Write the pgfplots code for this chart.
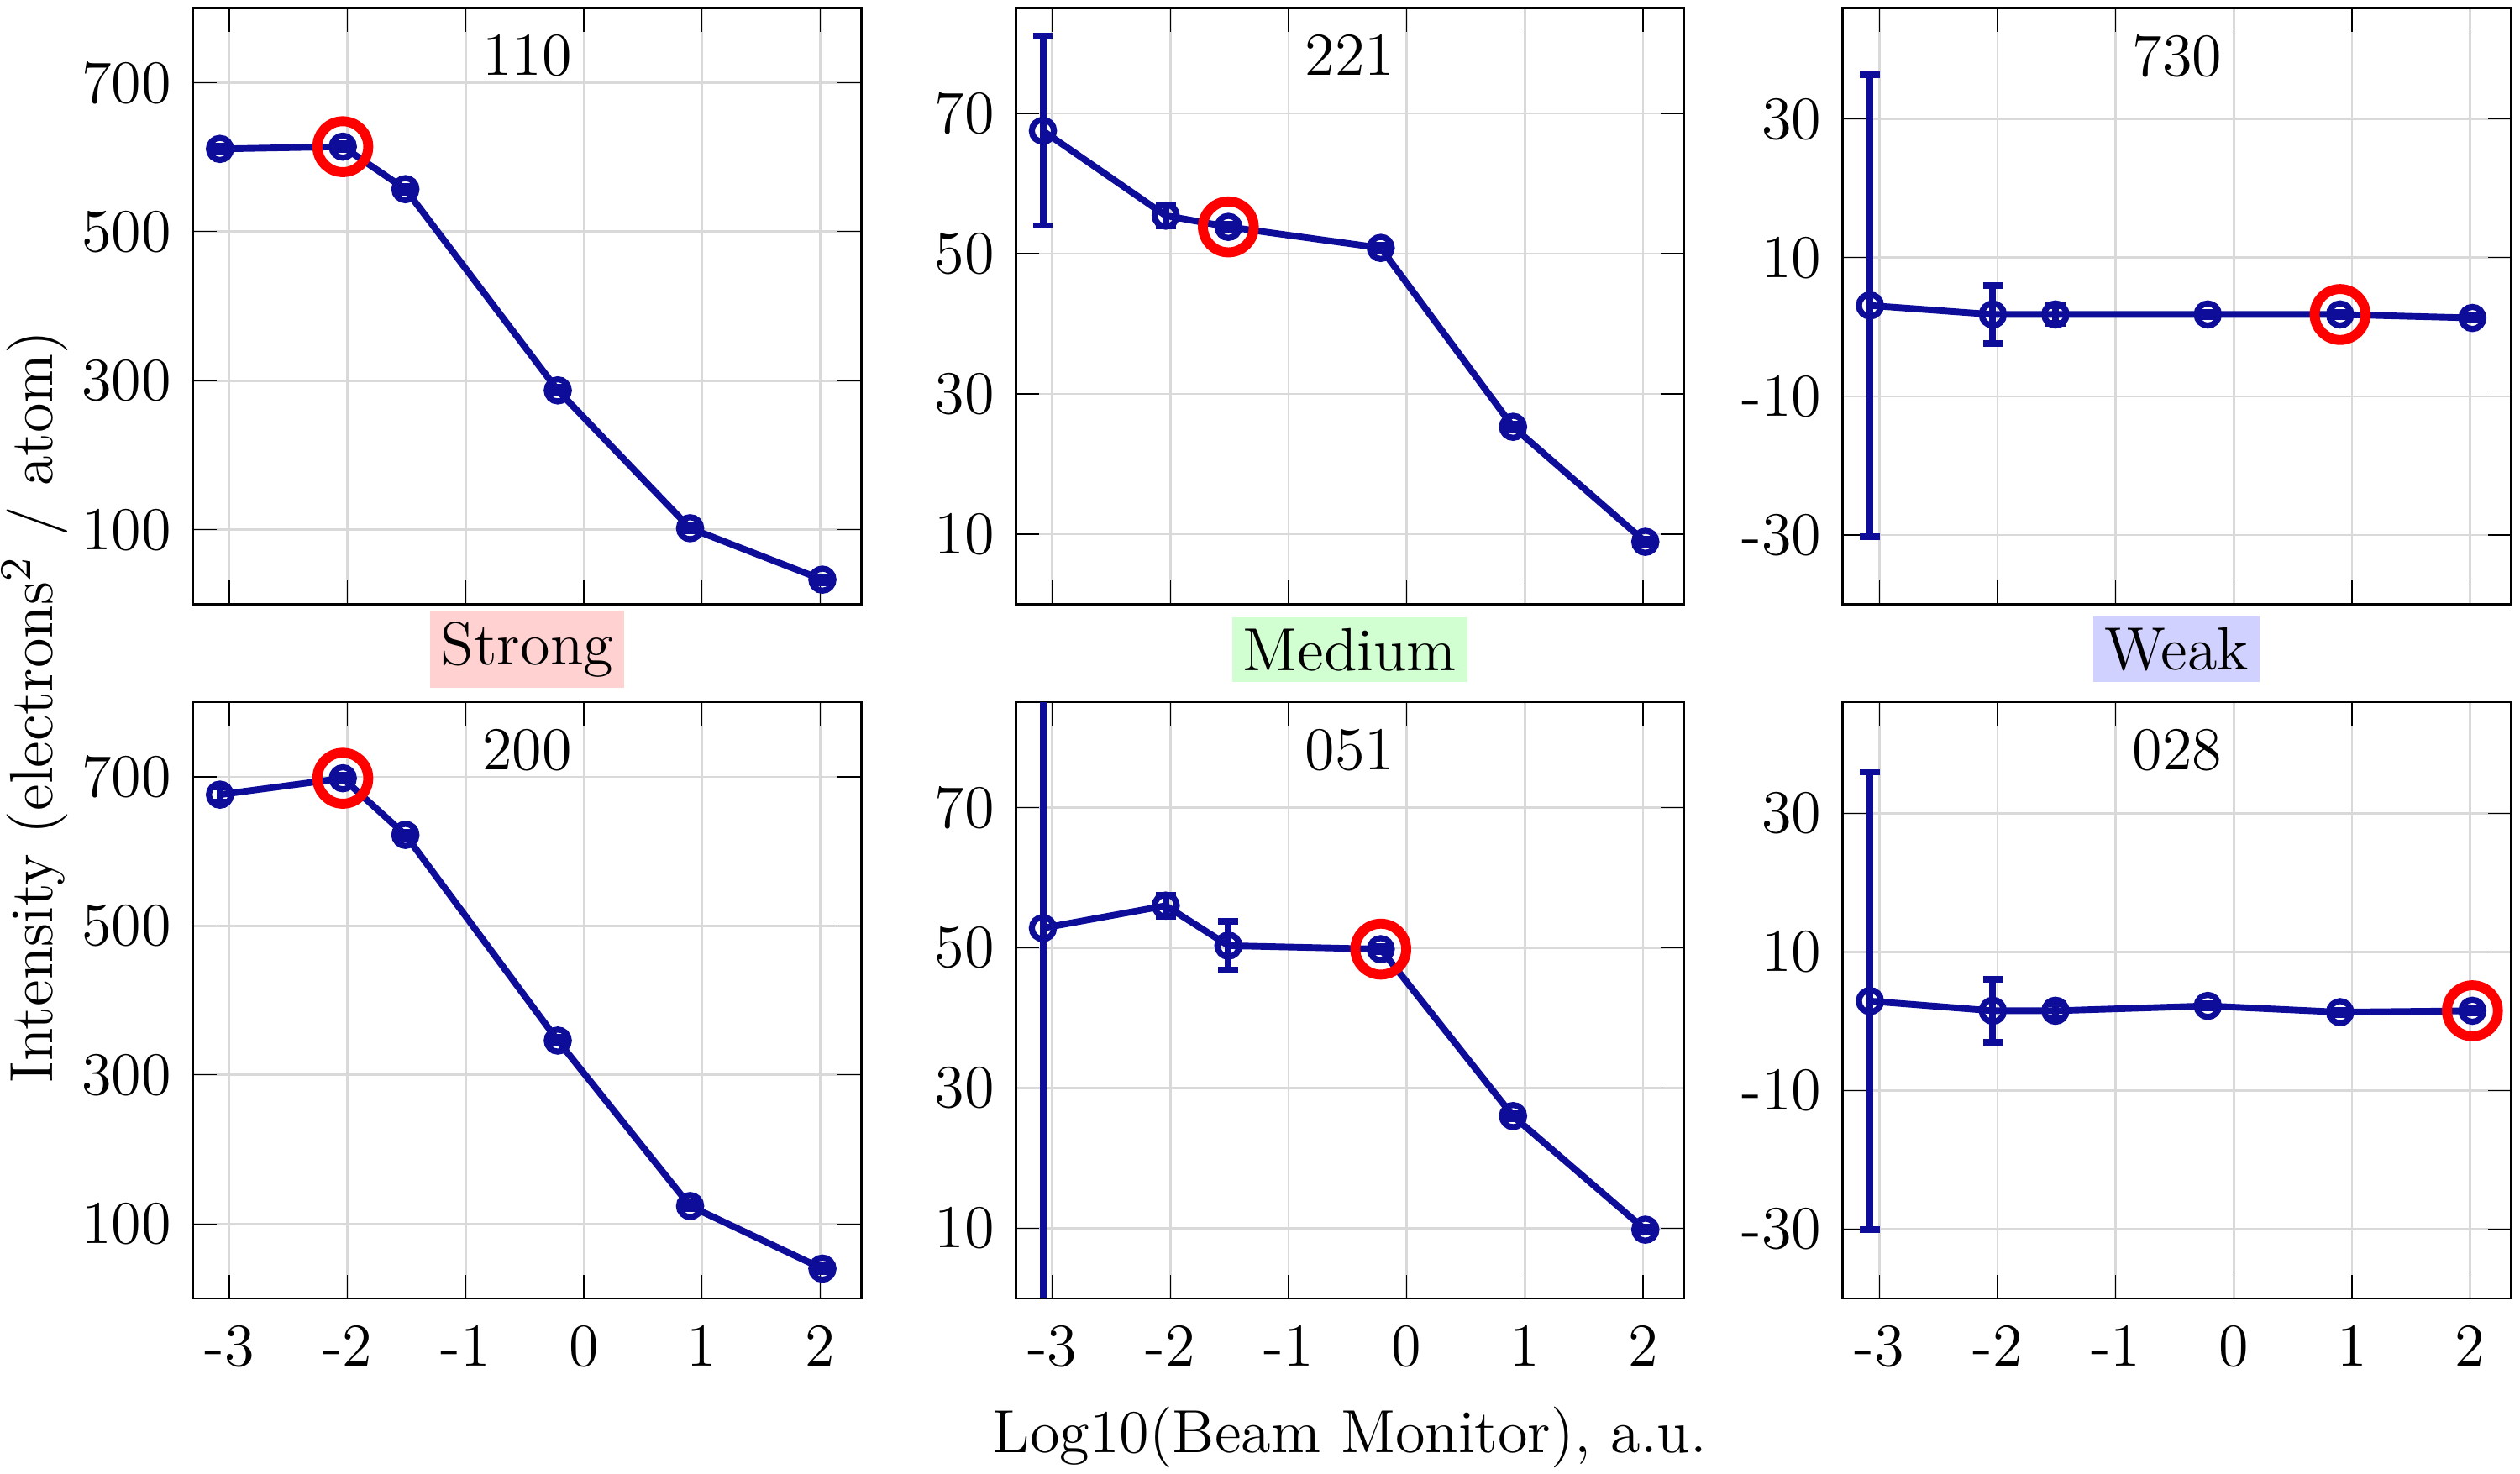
\documentclass[border=0pt]{standalone}
\usepackage{pgfplots}
\pgfplotsset{compat=1.18}
\usepackage{pgfplotstable}
\definecolor{dblue}{rgb}{0.05,0.05,0.6}
\pgfplotstableread{
x y e
-3.08 611 4
-2.04 614 4
-1.51 557 4
-0.22 287 4
0.90 102 4
2.02 33 4
}\tA
\pgfplotstableread{
x y e
-3.08 676 10
-2.04 698 4
-1.51 622 4
-0.22 346 4
0.90 124 4
2.02 40 4
}\tB
\pgfplotstableread{
x y e
-3.08 67.5 13.5
-2.04 55.4 1.5
-1.51 53.8 0.4
-0.22 50.8 0.4
0.90 25.3 0.4
2.02 8.9 0.4
}\tC
\pgfplotstableread{
x y e
-3.08 52.8 55
-2.04 56.0 1.5
-1.51 50.3 3.5
-0.22 49.8 0.4
0.90 26.0 0.4
2.02 9.8 0.4
}\tD
\pgfplotstableread{
x y e
-3.08 3.1 33.3
-2.04 1.8 4.2
-1.51 1.8 1.3
-0.22 1.8 0.3
0.90 1.8 0.3
2.02 1.3 0.3
}\tE
\pgfplotstableread{
x y e
-3.08 2.9 33
-2.04 1.5 4.5
-1.51 1.5 1.0
-0.22 2.2 0.3
0.90 1.3 0.3
2.02 1.5 0.3
}\tF
\pgfplotsset{
 panel/.style={scale only axis, width=4.245cm, height=3.786cm,
  xmin=-3.31, xmax=2.35, xtick={-3,-2,-1,0,1,2},
  grid=major, major grid style={gray!30},
  tick align=inside, axis line style={black}, tick style={black},
  ytick pos=both, xtick pos=both,
  /pgf/number format/assume math mode=true,
  xticklabel style={font=\fontsize{11}{13}\selectfont, yshift=-1pt},
  yticklabel style={font=\fontsize{11}{13}\selectfont},
  title style={at={(0.5,1)},anchor=north,yshift=-7pt,font=\fontsize{11}{13}\selectfont},
  anchor=south west},
 top/.style={xticklabels={}},
 sA/.style={ymin=0,ymax=800,ytick={100,300,500,700}},
 sC/.style={ymin=0,ymax=85,ytick={10,30,50,70}},
 sE/.style={ymin=-40,ymax=46,ytick={-30,-10,10,30}},
}
\newcommand\series[2]{%
 \addplot[dblue, line width=1.2pt, mark=o, mark size=2pt, mark options={line width=1.1pt},
  error bars/.cd, y dir=both, y explicit, error bar style={line width=1.2pt}, error mark options={rotate=90,mark size=1.8pt,line width=1.2pt}]
  table[x=x,y=y,y error=e]{#1};
 \addplot[only marks, red, mark=o, mark size=4.6pt, mark options={line width=1.8pt}] coordinates {#2};}
\begin{document}
\fontsize{11}{13}\selectfont
\begin{tikzpicture}
\useasboundingbox (0,0) rectangle (16,9.357);
\begin{axis}[panel,top,sA,at={(1.224cm,5.52cm)},title={110}]
\series{\tA}{(-2.04,614)}
\end{axis}
\begin{axis}[panel,sA,at={(1.224cm,1.112cm)},title={200}]
\series{\tB}{(-2.04,698)}
\end{axis}
\begin{axis}[panel,top,sC,at={(6.449cm,5.52cm)},title={221}]
\series{\tC}{(-1.51,53.8)}
\end{axis}
\begin{axis}[panel,sC,at={(6.449cm,1.112cm)},title={051}]
\series{\tD}{(-0.22,49.8)}
\end{axis}
\begin{axis}[panel,top,sE,at={(11.70cm,5.52cm)},title={730}]
\series{\tE}{(0.90,1.8)}
\end{axis}
\begin{axis}[panel,sE,at={(11.70cm,1.112cm)},title={028}]
\series{\tF}{(2.02,1.5)}
\end{axis}
\node[fill=red!18,inner sep=2pt] at (3.346,5.233) {Strong};
\node[fill=green!18,inner sep=2pt] at (8.57,5.233) {Medium};
\node[fill=blue!18,inner sep=2pt] at (13.82,5.233) {Weak};
\node[rotate=90] at (0.22,4.87) {Intensity (electrons$^2$ / atom)};
\node at (8.57,0.23) {Log10(Beam Monitor), a.u.};
\end{tikzpicture}
\end{document}
